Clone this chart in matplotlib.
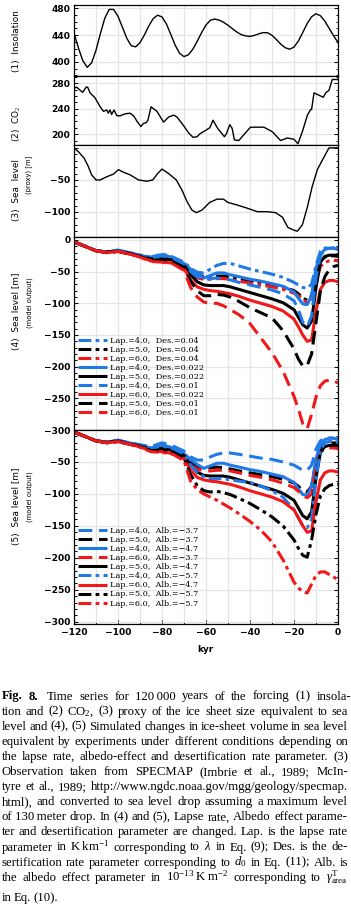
import matplotlib
matplotlib.use('Agg')
import matplotlib.pyplot as plt
from matplotlib.ticker import MultipleLocator, FixedLocator

# ---------------- data ----------------
ins_x = [-120,-118,-116,-114,-112,-110,-108,-106,-104,-102,-100,-98,-96,-94,-92,-90,-88,-86,-84,-82,
         -80,-78,-76,-74,-72,-70,-68,-66,-64,-62,-60,-58,-56,-54,-52,-50,-48,-46,-44,-42,
         -40,-38,-36,-34,-32,-30,-28,-26,-24,-22,-20,-18,-16,-14,-12,-10,-8,-6,-4,-2,0]
ins_y = [443,421,402,392,398.6,417.4,442.4,465.3,478.4,478.4,468.2,451.9,435.3,424.2,422.5,428.7,440.3,453.7,464.7,469.8,
         467.2,456.6,441.1,425.0,412.8,408.0,410.7,418.9,430.8,443.8,455.1,462.3,464,462.4,459.2,454.7,449.6,444.7,440.8,438.9,
         438.1,439.6,442.0,443.8,443.5,439.8,433.4,426.5,421.2,419,422.1,431.3,444.1,457.3,467.5,471.9,469,461,450,439,429]

co2_x = [-120,-118.8,-116.5,-116,-114.5,-113.8,-112.7,-110.4,-108.1,-106.6,-105.1,-104.4,-103.6,-102.9,-101.8,-100.5,
         -99,-96.8,-94.5,-92.7,-91.5,-89.6,-88.4,-87.2,-86.4,-85,-83.8,-82.3,-79.3,-77,-74.7,-73.2,-70.5,-67.9,-65.9,
         -64.1,-62.6,-58.3,-56.8,-54.7,-51.6,-50.7,-49.2,-48.1,-47.1,-45.1,-39.8,-33.7,-29.9,-26.1,-23.1,-20,-18.2,
         -16.2,-13.9,-12.4,-12,-10.9,-9.1,-6.7,-5.6,-4.1,-2.6,0]
co2_y = [272,274,267,266,274,274,265,257,243,236,238,233,238,231,238,229,
         229,232,233,228,221,212,217,218,222,243,240,236,219,227,230,227,215,202,195,
         196,201,210,222,209,196,201,215,209,191,190,211,211,204,190,194,192,185,
         204,230,239,239,265,262,258,265,269,286,286]

sl_x = [-120,-118,-115.4,-113.5,-112,-110,-108.1,-105.1,-102.1,-99.8,-97.5,-94.5,-90.7,-86.9,-84.2,-82,-80,-77,
        -73.5,-70.9,-68.6,-66.4,-64.4,-61.8,-58.3,-55,-52,-50.1,-45.9,-41.3,-36.7,-32.2,-28.4,-25.3,-22.8,-20.3,
        -18.5,-16.2,-13.9,-11.7,-9.4,-7.1,-4.1,0]
sl_y = [0,-6,-16,-29,-42,-50,-50,-45,-41,-34,-38,-42,-50,-52,-50,-40,-33,-40,
        -50,-66,-84,-97,-101,-97,-85,-80,-80,-85,-89,-94,-99.5,-99.5,-101,-108,-124,-128,
        -130,-120,-92,-60,-34,-19,0,0]

# model runs (sea level, m) at common time axis
mx = [-120,-115,-110,-105,-100,-95,-90,-85,-80,-75,-70,-67,-64,-61,-58,-55,-52,-49,-45,-40,-35,-30,-25,-20,
      -18,-16,-14,-12,-10,-8,-6,-4,-2,0]

lap4_des022 = [-3,-10,-17,-19,-16,-20,-24,-28,-23,-28,-37,-46,-54,-60,-56,-52,-52,-55,-58,-62,-65,-69,-73,-82,
               -92,-101,-102,-88,-45,-22,-15,-13,-13,-14]
lap5_des022 = [-3,-10,-17,-19,-17,-21,-25,-30,-29,-32,-40,-55,-66,-71,-72,-72,-72,-74,-78,-83,-88,-93,-99,-110,
               -122,-134,-139,-128,-75,-35,-26,-24,-24,-24]
lap6_des022 = [-3,-10,-17,-20,-18,-22,-26,-33,-34,-37,-45,-63,-74,-78,-80,-81,-83,-85,-89,-95,-100,-105,-112,-125,
               -137,-150,-160,-158,-112,-78,-67,-64,-64,-66]

lap4_des04 = [-3,-10,-17,-19,-16,-20,-24,-27,-22,-27,-35,-45,-51,-52,-46,-40,-37,-37,-41,-46,-50,-54,-59,-67,
              -71,-75,-76,-70,-40,-18,-13,-12,-13,-14]
lap5_des04 = [-3,-10,-17,-19,-17,-21,-25,-30,-28,-31,-39,-50,-55,-58,-58,-57,-57,-58,-61,-64,-67,-70,-74,-80,
              -85,-92,-95,-88,-55,-33,-27,-25,-25,-26]
lap6_des04 = [-3,-10,-17,-20,-18,-22,-26,-33,-33,-36,-44,-55,-60,-62,-62,-61,-61,-62,-65,-68,-71,-74,-78,-84,
              -88,-95,-98,-93,-65,-42,-35,-33,-32,-33]
lap4_des01 = [-3,-10,-17,-19,-17,-21,-25,-29,-25,-29,-38,-50,-58,-62,-61,-60,-61,-63,-67,-71,-75,-79,-85,-96,
              -110,-130,-137,-120,-60,-25,-15,-13,-13,-15]
lap5_des01 = [-3,-10,-17,-20,-18,-22,-26,-32,-32,-35,-43,-65,-80,-88,-88,-86,-87,-90,-97,-107,-115,-123,-143,-172,
              -188,-199,-198,-180,-130,-80,-58,-47,-42,-40]
lap6_des01 = [-3,-10,-17,-20,-18,-22,-27,-34,-35,-38,-48,-75,-90,-98,-100,-100,-104,-110,-118,-132,-155,-178,-207,-247,
              -267,-290,-298,-275,-248,-230,-223,-221,-222,-226]

lap4_alb37 = [-4,-10,-17,-19,-16,-20,-23,-26,-20,-25,-33,-42,-47,-47,-42,-38,-36,-36,-38,-41,-44,-46,-50,-55,
              -59,-63,-63,-55,-30,-17,-13,-12,-13,-15]
lap5_alb37 = [-3,-10,-17,-19,-17,-21,-25,-30,-28,-31,-39,-50,-57,-60,-59,-58,-59,-61,-64,-67,-70,-73,-77,-83,
              -88,-95,-97,-88,-50,-27,-21,-20,-20,-21]
lap6_alb37 = [-3,-10,-17,-20,-18,-22,-26,-33,-33,-36,-44,-55,-61,-64,-64,-63,-63,-64,-67,-71,-74,-78,-83,-90,
              -96,-103,-106,-100,-60,-35,-29,-28,-28,-29]
lap4_alb57 = [-3,-10,-17,-19,-17,-21,-25,-29,-25,-29,-38,-55,-66,-73,-77,-76,-76,-78,-80,-82,-88,-95,-105,-125,
              -138,-150,-153,-140,-75,-32,-20,-18,-18,-20]
lap5_alb57 = [-3,-10,-17,-20,-18,-22,-26,-32,-32,-35,-43,-70,-87,-95,-97,-96,-98,-101,-107,-115,-125,-136,-150,-172,
              -185,-196,-199,-172,-132,-103,-92,-87,-85,-85]
lap6_alb57 = [-3,-10,-17,-20,-18,-22,-27,-34,-35,-38,-48,-80,-93,-100,-105,-110,-116,-122,-131,-143,-157,-175,-203,-238,
              -247,-253,-255,-241,-227,-222,-222,-226,-230,-234]

labels4 = ['Lap.=4.0,  Des.=0.04', 'Lap.=5.0,  Des.=0.04', 'Lap.=6.0,  Des.=0.04',
           'Lap.=4.0,  Des.=0.022', 'Lap.=5.0,  Des.=0.022', 'Lap.=4.0,  Des.=0.01',
           'Lap.=6.0,  Des.=0.022', 'Lap.=5.0,  Des.=0.01', 'Lap.=6.0,  Des.=0.01']
labels5 = ['Lap.=4.0,  Alb.=\u22123.7', 'Lap.=5.0,  Alb.=\u22123.7', 'Lap.=4.0,  Alb.=\u22124.7',
           'Lap.=6.0,  Alb.=\u22123.7', 'Lap.=5.0,  Alb.=\u22124.7', 'Lap.=4.0,  Alb.=\u22125.7',
           'Lap.=6.0,  Alb.=\u22124.7', 'Lap.=5.0,  Alb.=\u22125.7', 'Lap.=6.0,  Alb.=\u22125.7']
series4 = [lap4_des04, lap5_des04, lap6_des04, lap4_des022, lap5_des022, lap4_des01,
           lap6_des022, lap5_des01, lap6_des01]
series5 = [lap4_alb37, lap5_alb37, lap4_des022, lap6_alb37, lap5_des022, lap4_alb57,
           lap6_des022, lap5_alb57, lap6_alb57]

BLUE, BLACK, RED = '#1f7ae8', '#000000', '#f01818'
colors4 = [BLUE, BLACK, RED, BLUE, BLACK, BLUE, RED, BLACK, RED]
styles4 = ['dd', 'dd', 'dd', '-', '-', '--', '-', '--', '--']
colors5 = [BLUE, BLACK, BLUE, RED, BLACK, BLUE, RED, BLACK, RED]
styles5 = ['--', '--', '-', '--', '-', 'dd', '-', 'dd', 'dd']

caption = [
    [("Fig.", 'b'), ("8.", 'b'), ("Time", ''), ("series", ''), ("for", ''), ("120\u2009000", ''), ("years", ''), ("of", ''),
     ("the", ''), ("forcing", ''), ("(1)", ''), ("insola-", '')],
    "tion and (2) CO$_2$, (3) proxy of the ice sheet size equivalent to sea",
    "level and (4), (5) Simulated changes in ice-sheet volume in sea level",
    "equivalent by experiments under different conditions depending on",
    "the lapse rate, albedo-effect and desertification rate parameter. (3)",
    "Observation taken from SPECMAP (Imbrie et al., 1989; McIn-",
    "tyre et al., 1989; http://www.ngdc.noaa.gov/mgg/geology/specmap.",
    "html), and converted to sea level drop assuming a maximum level",
    "of 130\u2009meter drop. In (4) and (5), Lapse rate, Albedo effect parame-",
    "ter and desertification parameter are changed. Lap. is the lapse rate",
    "parameter in K\u2009km$^{-1}$ corresponding to $\\lambda$ in Eq. (9); Des. is the de-",
    "sertification rate parameter corresponding to $d_0$ in Eq. (11); Alb. is",
    "the albedo effect parameter in 10$^{-13}$\u2009K\u2009m$^{-2}$ corresponding to $\\gamma^{\\mathrm{T}}_{\\mathrm{area}}$",
    "in Eq. (10).",
]

# ---------------- figure ----------------
W_PX, H_PX, DPI = 351, 915, 100
plt.rcParams['mathtext.fontset'] = 'custom'
plt.rcParams['mathtext.rm'] = 'Liberation Serif'
plt.rcParams['mathtext.it'] = 'Liberation Serif:italic'
plt.rcParams['mathtext.bf'] = 'Liberation Serif:bold'
fig = plt.figure(figsize=(W_PX / DPI, H_PX / DPI), dpi=DPI)
fig.patch.set_facecolor('white')

L, R = 74, 338


def rect(top, bottom):
    return [L / W_PX, 1 - bottom / H_PX, (R - L) / W_PX, (bottom - top) / H_PX]


TICKFONT = dict(family='DejaVu Sans', weight='bold', size=6.6)
GRID = '#e4e4e4'


def style_ax(ax, ymaj, ymin, bottom_labels=False):
    ax.set_xlim(-120, 0)
    ax.xaxis.set_major_locator(MultipleLocator(20))
    ax.xaxis.set_minor_locator(MultipleLocator(10))
    ax.yaxis.set_major_locator(FixedLocator(ymaj))
    ax.yaxis.set_minor_locator(MultipleLocator(ymin))
    ax.grid(True, which='both', axis='x', color=GRID, lw=0.9, zorder=0)
    ax.grid(True, which='major', axis='y', color=GRID, lw=0.9, zorder=0)
    ax.set_axisbelow(True)
    ax.tick_params(which='both', direction='in', left=True, right=True, top=False,
                   bottom=bottom_labels, labelbottom=bottom_labels, width=0.7, pad=2.5)
    ax.tick_params(which='major', length=3.2)
    ax.tick_params(which='minor', length=1.8)
    for s in ax.spines.values():
        s.set_linewidth(0.9)


def fmt(v):
    s = '%g' % v
    return s.replace('-', '\u2212')


# panel 1
ax1 = fig.add_axes(rect(5, 76))
ax1.plot(ins_x, ins_y, color='k', lw=1.0)
ax1.set_ylim(379, 485)
style_ax(ax1, [400, 440, 480], 10)
ax1.set_yticklabels([fmt(v) for v in [400, 440, 480]], **TICKFONT)

# panel 2
ax2 = fig.add_axes(rect(76, 145))
ax2.plot(co2_x, co2_y, color='k', lw=1.0)
ax2.set_ylim(183, 291.5)
style_ax(ax2, [200, 240, 280], 10)
ax2.set_yticklabels([fmt(v) for v in [200, 240, 280]], **TICKFONT)

# panel 3
ax3 = fig.add_axes(rect(145, 237))
ax3.plot(sl_x, sl_y, color='k', lw=1.0)
ax3.set_ylim(-139, 4.5)
style_ax(ax3, [-100, -50, 0], 10)
ax3.set_yticklabels(['\u2212100', '\u221250', ''], **TICKFONT)


def draw_runs(ax, series, colors, styles, labels):
    handles = []
    for ys, c, st, lab in zip(series, colors, styles, labels):
        kw = dict(color=c, lw=2.2, label=lab, solid_capstyle='butt', dash_capstyle='butt')
        if st == '-':
            kw['ls'] = '-'
        elif st == '--':
            kw['dashes'] = (4.5, 2.2)
        else:
            kw['dashes'] = (4.2, 1.4, 1.2, 1.4)
        h, = ax.plot(mx, ys, **kw)
        handles.append(h)
    return handles


LEGFONT = dict(family='DejaVu Serif', size=5.9)
LEGKW = dict(loc='lower left', frameon=False, prop=LEGFONT, handlelength=3.6,
             handletextpad=0.35, labelspacing=0.13, borderpad=0, borderaxespad=0)

ax4 = fig.add_axes(rect(237, 430))
h4 = draw_runs(ax4, series4, colors4, styles4, labels4)
ax4.set_ylim(-300, 4.7)
yt4 = [0, -50, -100, -150, -200, -250, -300]
style_ax(ax4, yt4, 10)
ax4.set_yticklabels([fmt(v) for v in yt4], **TICKFONT)
ax4.legend(handles=h4, bbox_to_anchor=(0.014, 0.066), **LEGKW)

ax5 = fig.add_axes(rect(430, 624))
h5 = draw_runs(ax5, series5, colors5, styles5, labels5)
ax5.set_ylim(-303.5, 0)
yt5 = [-50, -100, -150, -200, -250, -300]
style_ax(ax5, yt5, 10, bottom_labels=True)
ax5.set_yticklabels([fmt(v) for v in yt5], **TICKFONT)
ax5.set_xticks([-120, -100, -80, -60, -40, -20, 0])
ax5.set_xticklabels([fmt(v) for v in [-120, -100, -80, -60, -40, -20, 0]], **TICKFONT)
ax5.tick_params(axis='x', pad=3)
ax5.legend(handles=h5, bbox_to_anchor=(0.014, 0.085), **LEGKW)

# axis labels
LABF = dict(family='DejaVu Sans', size=6.4, rotation=90, ha='center', va='center')
SUBF = dict(family='DejaVu Sans', size=4.9, rotation=90, ha='center', va='center')


def fx(px):
    return px / W_PX


def fy(py):
    return 1 - py / H_PX


fig.text(fx(17), fy(41), '(1)  Insolation', **LABF)
fig.text(fx(17), fy(124), '(2)  CO$_2$', **LABF)
fig.text(fx(17), fy(190), '(3)  Sea  level', **LABF)
fig.text(fx(28.5), fy(175), '(proxy) [m]', **SUBF)
fig.text(fx(17), fy(311), '(4)  Sea level [m]', **LABF)
fig.text(fx(29.5), fy(303), '(model output)', **SUBF)
fig.text(fx(17), fy(506), '(5)  Sea level [m]', **LABF)
fig.text(fx(29.5), fy(497), '(model output)', **SUBF)
fig.text(fx(205), fy(649), 'kyr', family='DejaVu Sans', weight='bold', size=6.4,
         ha='center', va='center')

# caption (justified)
renderer = fig.canvas.get_renderer()
CAPF = dict(family='Liberation Serif', size=9.2, va='baseline', ha='left')
x_left, x_right = 1.5, 348.0
base0, step = 699.5, 15.1
for i, line in enumerate(caption):
    if isinstance(line, str):
        words = [(w, '') for w in line.split(' ')]
    else:
        words = line
    yb = base0 + step * i
    if i == len(caption) - 1:
        yb += 5
    texts = []
    for w, b in words:
        t = fig.text(0, fy(yb), w, weight='bold' if b == 'b' else 'normal', **CAPF)
        texts.append(t)
    widths = [t.get_window_extent(renderer).width for t in texts]
    if i < len(caption) - 1 and len(texts) > 1:
        gap = (x_right - x_left - sum(widths)) / (len(texts) - 1)
    else:
        gap = 2.5
    x = x_left
    for j, (t, wd) in enumerate(zip(texts, widths)):
        t.set_x(fx(x))
        x += wd + gap
        if i == 0 and j == 1:
            x += 3

fig.savefig('out.png', dpi=DPI, facecolor='white')
